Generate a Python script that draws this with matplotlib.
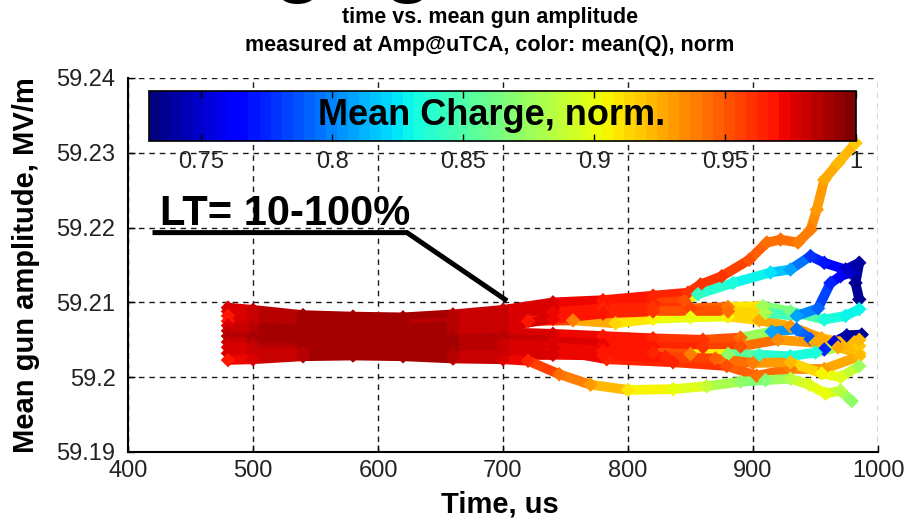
import numpy as np
import matplotlib
matplotlib.use("Agg")
import matplotlib.pyplot as plt
from matplotlib.collections import LineCollection
from matplotlib.colors import Normalize
from matplotlib.cm import ScalarMappable
from matplotlib.ticker import FuncFormatter

# One entry per pulse trace: time (us), mean gun amplitude (MV/m), normalised mean charge
times = [
    [480, 500, 540, 580, 620, 660, 700, 740, 780, 820, 848, 858, 875, 897, 911, 922, 936, 946, 951, 957, 968, 982],
    [480, 500, 540, 580, 620, 660, 700, 740, 780, 820, 845, 856, 884, 914, 930, 946, 957, 974, 985, 982, 985],
    [480, 500, 540, 580, 620, 660, 700, 740, 780, 820, 850, 880, 908, 930, 957, 974, 985],
    [480, 500, 540, 580, 620, 660, 700, 720, 756, 790, 820, 850, 880, 905, 930, 955, 985],
    [480, 500, 540, 580, 620, 660, 700, 740, 780, 820, 880, 910, 935, 952, 962, 970, 978],
    [480, 500, 540, 580, 620, 660, 700, 740, 780, 820, 860, 890, 915, 935, 946, 957, 965, 975, 987],
    [480, 500, 540, 580, 620, 660, 700, 740, 780, 820, 860, 890, 920, 950, 985],
    [480, 500, 540, 580, 620, 660, 700, 740, 780, 820, 850, 880, 905, 930, 950, 968, 985],
    [480, 500, 540, 580, 620, 660, 700, 730, 783, 836, 879, 903, 930, 957, 985],
    [480, 500, 540, 580, 620, 660, 700, 740, 780, 830, 870, 900, 930, 955, 970, 985],
    [480, 500, 540, 580, 620, 660, 700, 720, 745, 770, 800, 836, 863, 890, 910, 930, 945, 958, 970, 979],
]
amps = [
    [59.2093, 59.2090, 59.2083, 59.2081, 59.2080, 59.2084, 59.2090, 59.2100, 59.2103, 59.2109, 59.2113,
     59.2124, 59.2135, 59.2157, 59.2180, 59.2184, 59.2180, 59.2197, 59.2224, 59.2264, 59.2286, 59.2313],
    [59.2088, 59.2084, 59.2078, 59.2077, 59.2075, 59.2078, 59.2083, 59.2092, 59.2097, 59.2099, 59.2102,
     59.2111, 59.2126, 59.2140, 59.2144, 59.2162, 59.2153, 59.2144, 59.2153, 59.2126, 59.2104],
    [59.2082, 59.2079, 59.2074, 59.2072, 59.2071, 59.2074, 59.2079, 59.2087, 59.2092, 59.2093, 59.2092,
     59.2094, 59.2095, 59.2088, 59.2077, 59.2082, 59.2091],
    [59.2075, 59.2073, 59.2068, 59.2066, 59.2065, 59.2068, 59.2072, 59.2075, 59.2076, 59.2072, 59.2078,
     59.2080, 59.2081, 59.2076, 59.2068, 59.2052, 59.2042],
    [59.2069, 59.2067, 59.2063, 59.2061, 59.2060, 59.2063, 59.2068, 59.2078, 59.2085, 59.2088, 59.2088,
     59.2086, 59.2082, 59.2092, 59.2126, 59.2135, 59.2140],
    [59.2062, 59.2060, 59.2057, 59.2056, 59.2055, 59.2057, 59.2060, 59.2058, 59.2055, 59.2052, 59.2050,
     59.2053, 59.2061, 59.2064, 59.2051, 59.2037, 59.2047, 59.2056, 59.2057],
    [59.2055, 59.2053, 59.2051, 59.2050, 59.2050, 59.2051, 59.2053, 59.2048, 59.2044, 59.2041, 59.2040,
     59.2041, 59.2050, 59.2046, 59.2050],
    [59.2047, 59.2046, 59.2045, 59.2045, 59.2044, 59.2044, 59.2045, 59.2040, 59.2035, 59.2033, 59.2031,
     59.2031, 59.2030, 59.2028, 59.2033, 59.2040, 59.2032],
    [59.2040, 59.2039, 59.2039, 59.2039, 59.2038, 59.2037, 59.2040, 59.2040, 59.2024, 59.2020, 59.2015,
     59.2002, 59.2011, 59.2011, 59.2028],
    [59.2032, 59.2032, 59.2033, 59.2033, 59.2032, 59.2030, 59.2030, 59.2030, 59.2029, 59.2027, 59.2025,
     59.2019, 59.2020, 59.2005, 59.2000, 59.2015],
    [59.2023, 59.2024, 59.2028, 59.2029, 59.2028, 59.2025, 59.2024, 59.2022, 59.2004, 59.1990, 59.1983,
     59.1984, 59.1988, 59.1994, 59.1996, 59.1998, 59.1990, 59.1978, 59.1982, 59.1968],
]
charges = [
    [0.975, 0.98, 0.99, 0.99, 0.99, 0.985, 0.98, 0.975, 0.97, 0.966, 0.962, 0.96, 0.958, 0.95, 0.945,
     0.943, 0.94, 0.937, 0.93, 0.928, 0.922, 0.918],
    [0.975, 0.98, 0.99, 0.99, 0.99, 0.985, 0.98, 0.975, 0.97, 0.965, 0.95, 0.84, 0.832, 0.826, 0.81,
     0.78, 0.77, 0.75, 0.742, 0.738, 0.736],
    [0.97, 0.98, 0.99, 0.99, 0.988, 0.985, 0.98, 0.972, 0.966, 0.962, 0.955, 0.94, 0.875, 0.862, 0.835,
     0.83, 0.828],
    [0.97, 0.98, 0.99, 0.99, 0.99, 0.985, 0.98, 0.97, 0.94, 0.915, 0.905, 0.9, 0.905, 0.925, 0.93,
     0.928, 0.918],
    [0.975, 0.985, 0.99, 0.99, 0.99, 0.985, 0.98, 0.972, 0.968, 0.962, 0.945, 0.88, 0.81, 0.79, 0.775,
     0.76, 0.75],
    [0.98, 0.985, 0.99, 0.99, 0.99, 0.985, 0.98, 0.975, 0.97, 0.966, 0.958, 0.945, 0.81, 0.795, 0.785,
     0.775, 0.752, 0.74, 0.736],
    [0.985, 0.988, 0.99, 0.99, 0.99, 0.988, 0.985, 0.978, 0.972, 0.968, 0.962, 0.952, 0.935, 0.928, 0.92],
    [0.98, 0.985, 0.99, 0.99, 0.99, 0.988, 0.982, 0.975, 0.97, 0.965, 0.94, 0.87, 0.84, 0.832, 0.835,
     0.925, 0.918],
    [0.975, 0.98, 0.988, 0.99, 0.99, 0.988, 0.98, 0.975, 0.966, 0.964, 0.952, 0.945, 0.937, 0.93, 0.92],
    [0.975, 0.98, 0.985, 0.99, 0.99, 0.985, 0.98, 0.975, 0.97, 0.965, 0.948, 0.938, 0.92, 0.905, 0.898,
     0.875],
    [0.97, 0.975, 0.985, 0.99, 0.99, 0.985, 0.978, 0.965, 0.945, 0.93, 0.91, 0.9, 0.89, 0.87, 0.865,
     0.885, 0.898, 0.9, 0.885, 0.87],
]

x_ticks = [400, 500, 600, 700, 800, 900, 1000]
y_ticks = [59.19, 59.20, 59.21, 59.22, 59.23, 59.24]
cbar_ticks = [0.75, 0.8, 0.85, 0.9, 0.95, 1.0]
charge_range = (0.73, 1.0)

tick_font = ["Liberation Sans Narrow", "Liberation Sans", "DejaVu Sans"]
bold_font = ["Liberation Sans", "DejaVu Sans"]

cmap = plt.get_cmap("jet", 64)
norm = Normalize(*charge_range)

fig = plt.figure(figsize=(9.05, 5.22), dpi=100)
ax = fig.add_axes([128 / 905, 70 / 522, 750 / 905, 374 / 522])

for t, a, q in zip(times, amps, charges):
    pts = np.column_stack([t, a]).reshape(-1, 1, 2)
    segs = np.concatenate([pts[:-1], pts[1:]], axis=1)
    q = np.asarray(q)
    lc = LineCollection(segs, cmap=cmap, norm=norm, linewidths=7,
                        capstyle="round", joinstyle="round", zorder=3)
    lc.set_array((q[:-1] + q[1:]) / 2)
    ax.add_collection(lc)
    ax.scatter(t, a, c=q, cmap=cmap, norm=norm, marker="D", s=55,
               linewidths=0, zorder=4)

ax.set_xlim(400, 1000)
ax.set_ylim(59.19, 59.24)
ax.set_xticks(x_ticks)
ax.set_yticks(y_ticks)
ax.yaxis.set_major_formatter(FuncFormatter(lambda v, p: f"{v:g}"))
ax.grid(True, color="#1a1a1a", linestyle=(0, (4, 3.5)), linewidth=1)
ax.set_axisbelow(True)
for side in ("top", "right"):
    ax.spines[side].set_visible(False)
for side in ("left", "bottom"):
    ax.spines[side].set_linewidth(1.5)
ax.tick_params(direction="in", length=5, width=1, labelsize=17, colors="k")
ax.tick_params(axis="y", pad=9)
ax.tick_params(axis="x", pad=6)
for lbl in ax.get_xticklabels() + ax.get_yticklabels():
    lbl.set_family(tick_font)
    lbl.set_color("#222222")

ax.set_xlabel("Time, us", fontsize=21, fontweight="bold", family=bold_font)
ax.set_ylabel("Mean gun amplitude, MV/m", fontsize=21, fontweight="bold", family=bold_font)
ax.xaxis.set_label_coords(0.496, -0.103)
ax.yaxis.set_label_coords(-0.117, 0.5)

# colour bar sits inside the plot area, MATLAB style
cax = ax.inset_axes([0.028, 0.832, 0.943, 0.133])
cb = fig.colorbar(ScalarMappable(norm=norm, cmap=cmap), cax=cax, orientation="horizontal")
cb.set_ticks(cbar_ticks)
cb.set_ticklabels(["0.75", "0.8", "0.85", "0.9", "0.95", "1"])
cb.outline.set_linewidth(1.2)
cax.tick_params(direction="in", top=True, bottom=True, length=5, width=1,
                labelsize=17, pad=7, colors="k")
for lbl in cax.get_xticklabels():
    lbl.set_family(tick_font)
    lbl.set_color("#222222")
cax.text(0.485, 0.5, "Mean Charge, norm.", transform=cax.transAxes, ha="center",
         va="center", fontsize=26, fontweight="bold", family=bold_font)

# lifetime annotation with its pointer
ax.plot([421.6, 623.2, 701.6], [59.21933, 59.21933, 59.2104], color="k", lw=3.6,
        solid_joinstyle="miter", zorder=5)
ax.text(425.6, 59.2204, "LT= 10-100%", fontsize=30, fontweight="bold", family=bold_font,
        ha="left", va="baseline", zorder=6)

fig.text(490 / 905, 1 - 18 / 522, "time vs. mean gun amplitude", ha="center", va="center",
         fontsize=15.5, fontweight="bold", family=bold_font)
fig.text(490 / 905, 1 - 45 / 522, "measured at Amp@uTCA, color: mean(Q), norm", ha="center",
         va="center", fontsize=15.5, fontweight="bold", family=bold_font)

# slide heading running off the top edge
for gx in (298, 408):
    fig.text(gx / 905, 1 + 13 / 522, "g", ha="center", va="baseline", fontsize=60,
             fontweight="bold", family=bold_font)

fig.savefig("out.png", dpi=100)
